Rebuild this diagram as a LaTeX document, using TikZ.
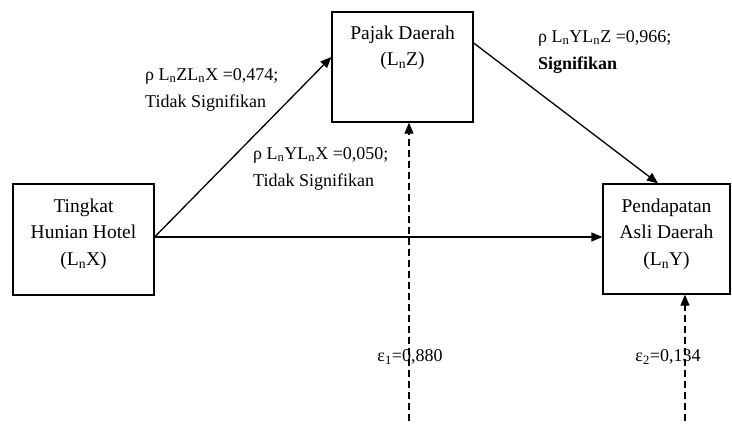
\documentclass[tikz,border=0pt]{standalone}
\usepackage{fontspec}
\setmainfont{Liberation Serif}
\usetikzlibrary{arrows.meta,positioning}
\tikzset{
  path-line/.style={
    line width=1.3pt,
    -{Triangle[length=11pt,width=9pt]}
  },
  error-line/.style={
    path-line,
    line width=1.2pt,
    dash pattern=on 7pt off 4pt
  },
  var-box/.style={draw=black, line width=1.3pt, inner sep=0pt},
  var-text/.style={align=center, inner sep=0pt, font=\fontsize{19.5}{26.5}\selectfont},
  coef/.style={align=left, anchor=west, inner sep=0pt, font=\fontsize{18}{27.5}\selectfont},
  err/.style={inner sep=1pt, font=\fontsize{18}{22}\selectfont}
}
\newcommand{\Ln}{L\textsubscript{n}}

\begin{document}
\begin{tikzpicture}[x=1pt,y=-1pt]
  \useasboundingbox (0,0) rectangle (732,424);
  % Variables
  \node[var-box, minimum width=141pt, minimum height=111pt] (hotel) at (83.5,239.5) {};
  \node[var-box, minimum width=141pt, minimum height=110pt] (pajak) at (402.5,67) {};
  \node[var-box, minimum width=127pt, minimum height=110pt] (pad) at (666.5,239) {};
  \node[var-text, below=15pt of hotel.north] (hotel-text) {Tingkat\\Hunian Hotel\\(\Ln X)};
  \node[var-text, below=14pt of pajak.north] (pajak-text) {Pajak Daerah\\(\Ln Z)};
  \node[var-text, below=15pt of pad.north] (pad-text) {Pendapatan\\Asli Daerah\\(\Ln Y)};
  % Error terms
  \coordinate (e1) at (409,421);
  \coordinate (e2) at (685,421);
  % Paths
  \draw[path-line] ([yshift=2.5pt]hotel.east) -- ([yshift=10pt]pajak.west);
  \draw[path-line] ([yshift=2.5pt]hotel.east) -- ([yshift=2pt]pad.west);
  \draw[path-line] ([yshift=24pt]pajak.east) -- ([xshift=-8.5pt]pad.north);
  \draw[error-line] (e1) -- (e1 |- pajak.south);
  \draw[error-line] (e2) -- (e2 |- pad.south);
  % Coefficients
  \node[coef] (zx) at (145,90) {ρ \Ln Z\Ln X =0,474;\\Tidak Signifikan};
  \node[coef] (yx) at (253,169) {ρ \Ln Y\Ln X =0,050;\\Tidak Signifikan};
  \node[coef] (yz) at (538,52) {ρ \Ln Y\Ln Z =0,966;\\\textbf{Signifikan}};
  \node[err] (e1-text) at (410,357) {ε\textsubscript{1}=0,880};
  \node[err] (e2-text) at (668,357) {ε\textsubscript{2}=0,134};
\end{tikzpicture}
\end{document}
